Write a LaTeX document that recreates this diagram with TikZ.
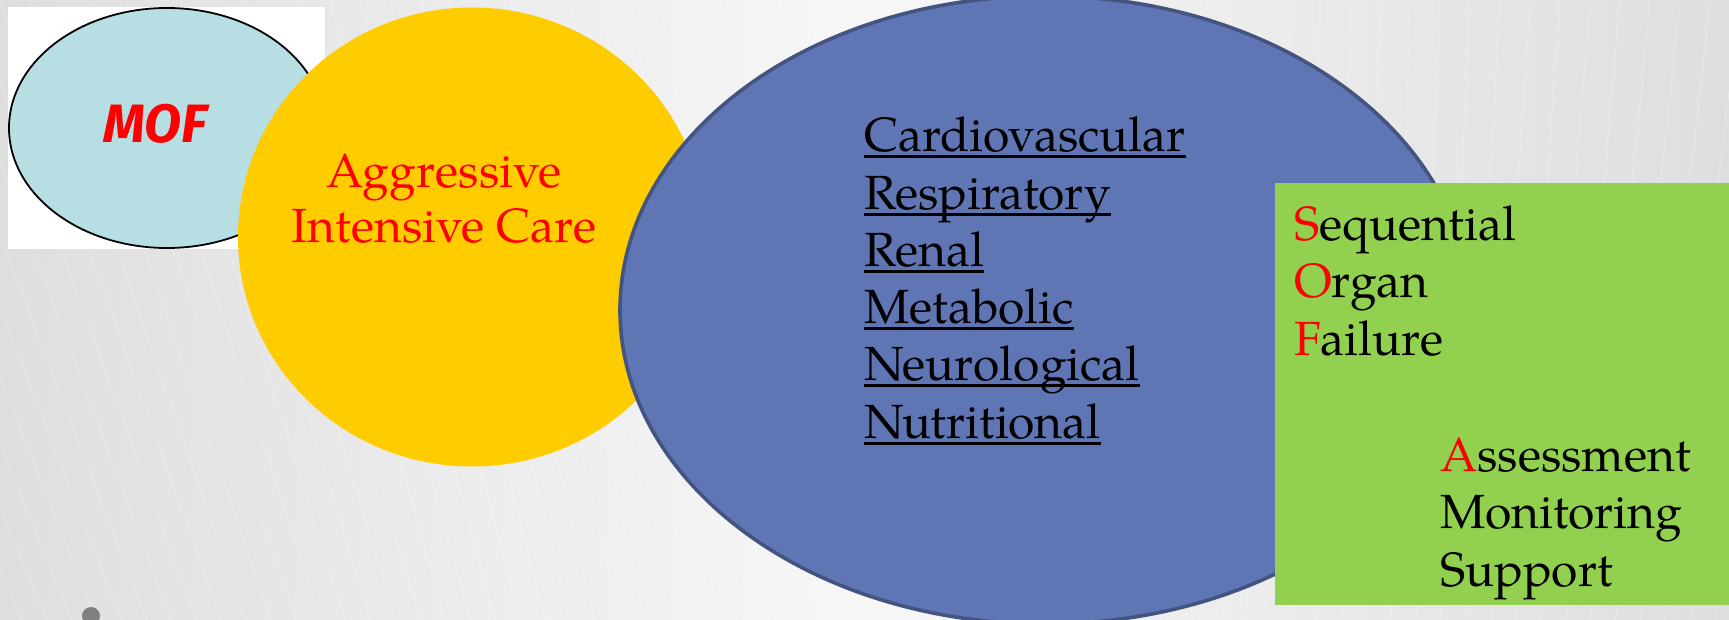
\documentclass[tikz,border=0pt]{standalone}
\usepackage{fontspec}
\setmainfont{TeX Gyre Pagella}
\newfontfamily\moffont{Fira Sans}
\usetikzlibrary{shapes.geometric}
\definecolor{bgside}{RGB}{222,222,222}
\definecolor{bgmid}{RGB}{247,247,247}
\definecolor{mofcyan}{RGB}{183,222,226}
\definecolor{aicyellow}{RGB}{255,204,0}
\definecolor{sysblue}{RGB}{96,117,180}
\definecolor{sysedge}{RGB}{68,84,128}
\definecolor{sofagreen}{RGB}{146,208,80}
\definecolor{bulletgray}{RGB}{128,128,128}
% underline that runs through the descenders
\newcommand{\organline}[1]{\setbox0\hbox{#1}\rlap{\rule[-3.25pt]{\wd0}{1.5pt}}\box0}

\begin{document}
\begin{tikzpicture}[x=0.5pt,y=-0.5pt,
  every node/.style={inner sep=0pt,outer sep=0pt},
  txt/.style={font=\fontsize{24}{28}\selectfont}]
\useasboundingbox (0,0) rectangle (1729,620);
% backdrop
\shade[left color=bgside,right color=bgside,middle color=bgmid] (0,0) rectangle (1729,620);
\begin{scope}
\clip (0,0) rectangle (1729,620);
\foreach \x in {-600,-570,...,2100}
  \draw[white,opacity=0.3,line width=0.4pt] (\x,0) -- ({\x+(1300-\x)*0.17},620);
\end{scope}

% MOF card
\fill[white] (8,7) rectangle (325,249);
\node[ellipse,draw=black,line width=0.9pt,fill=mofcyan,minimum width=158pt,
  minimum height=120pt] (mof) at (167,128) {};
\node[font=\moffont\bfseries\itshape\fontsize{27}{30}\selectfont,text=red] (moflabel) at (155,124) {MOF};

% aggressive intensive care
\node[ellipse,fill=aicyellow,minimum width=234pt,minimum height=229.5pt] (aic) at (472,237) {};
\node[txt,text=red,anchor=base] (aic1) at (444,188) {Aggressive};
\node[txt,text=red,anchor=base] (aic2) at (444,243) {Intensive Care};

% organ systems
\node[ellipse,fill=sysblue,draw=sysedge,line width=1.8pt,minimum width=425pt,
  minimum height=314pt] (sys) at (1045,310) {};
\foreach \name [count=\i] in {Cardiovascular,Respiratory,Renal,Metabolic,Neurological,Nutritional}
  \node[txt,anchor=base west] (sys\i) at (864,{152+57.2*(\i-1)}) {\organline{\name}};

% SOFA / AMS box
\node[fill=sofagreen,minimum width=227pt,minimum height=211pt,anchor=north west] (sofa) at (1275,183) {};
\node[txt,anchor=base west] (sofa1) at (1294,241) {\textcolor{red}{S}equential};
\node[txt,anchor=base west] (sofa2) at (1294,298) {\textcolor{red}{O}rgan};
\node[txt,anchor=base west] (sofa3) at (1294,355) {\textcolor{red}{F}ailure};
\node[txt,anchor=base west] (ams1) at (1440,471) {\textcolor{red}{A}ssessment};
\node[txt,anchor=base west] (ams2) at (1440,528) {Monitoring};
\node[txt,anchor=base west] (ams3) at (1440,586) {Support};

% stray bullet
\node[circle,fill=bulletgray,minimum size=9pt] (dot) at (91,616) {};
\end{tikzpicture}
\end{document}
